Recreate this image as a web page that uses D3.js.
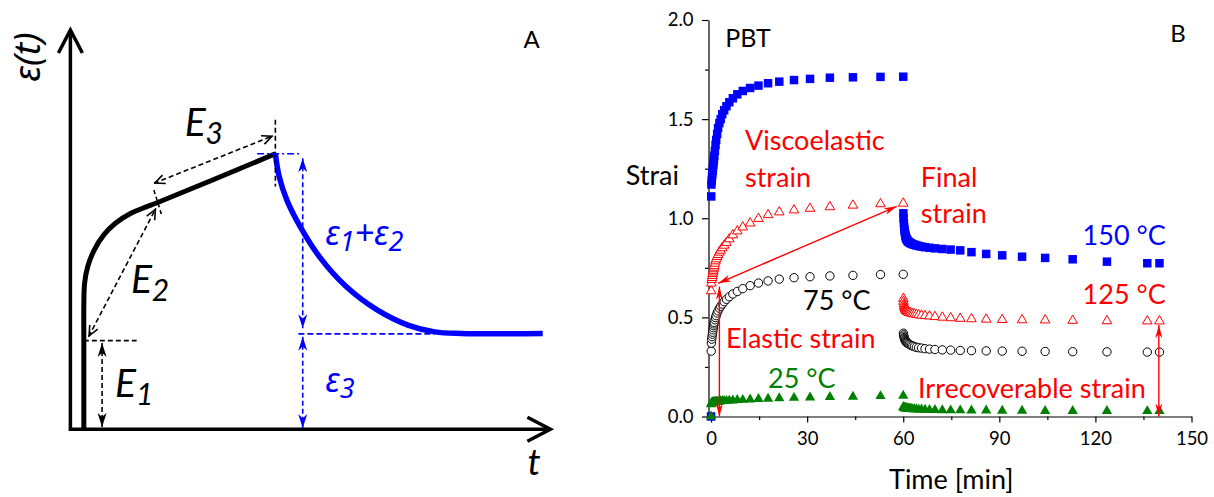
<!DOCTYPE html>
<html>
<head>
<meta charset="utf-8">
<script src="https://cdn.jsdelivr.net/npm/d3@7"></script>
<style>
    body { margin: 0; background: #fff; }
    svg { display: block; font-family: Lato, "Noto Sans", sans-serif; }
</style>
</head>
<body>
<svg id="chart" width="1214" height="497"></svg>
<script>

// ---- panel B : creep / recovery of PBT ----
var creepTime = [0, 0.05, 0.1, 0.2, 0.3, 0.4, 0.5, 0.6, 0.7, 0.8, 0.9, 1.0, 1.2, 1.4, 1.6, 1.9, 2.2, 2.6, 3.0, 3.5, 4.1, 4.8, 5.7, 6.8, 8.2, 9.9, 12.2, 14.8, 17.8, 21.3, 25.9, 30.9, 37.1, 44.3, 52.9, 60];
var recoveryTime = [60.05, 60.1, 60.2, 60.3, 60.4, 60.5, 60.6, 60.7, 60.8, 60.9, 61.0, 61.2, 61.4, 61.6, 61.9, 62.2, 62.6, 63.0, 63.5, 64.1, 64.8, 65.7, 66.8, 68.2, 69.9, 72.2, 74.8, 77.8, 81.3, 85.9, 90.9, 97.1, 104.3, 112.9, 123.6, 136.2, 140];

var creep150 = [0, 1.11, 1.17, 1.19, 1.21, 1.225, 1.24, 1.255, 1.27, 1.285, 1.30, 1.315, 1.34, 1.37, 1.395, 1.425, 1.455, 1.48, 1.50, 1.525, 1.545, 1.565, 1.585, 1.605, 1.625, 1.642, 1.657, 1.669, 1.681, 1.689, 1.697, 1.703, 1.709, 1.711, 1.713, 1.714];
var creep125 = [null, 0.633, 0.672, 0.69, 0.70, 0.71, 0.72, 0.728, 0.736, 0.744, 0.752, 0.76, 0.772, 0.784, 0.794, 0.806, 0.816, 0.828, 0.838, 0.85, 0.863, 0.877, 0.895, 0.915, 0.935, 0.955, 0.975, 0.998, 1.017, 1.031, 1.041, 1.049, 1.057, 1.065, 1.072, 1.075];
var creep75 = [null, 0.33, 0.37, 0.39, 0.403, 0.415, 0.425, 0.437, 0.448, 0.458, 0.467, 0.475, 0.488, 0.499, 0.509, 0.522, 0.533, 0.546, 0.556, 0.567, 0.579, 0.591, 0.604, 0.618, 0.631, 0.645, 0.66, 0.673, 0.684, 0.693, 0.70, 0.705, 0.709, 0.712, 0.716, 0.717];
var creep25 = [0, 0.062, 0.066, 0.068, 0.069, 0.07, 0.07, 0.071, 0.071, 0.072, 0.072, 0.072, 0.073, 0.073, 0.074, 0.075, 0.075, 0.076, 0.077, 0.078, 0.078, 0.079, 0.08, 0.081, 0.083, 0.084, 0.086, 0.088, 0.09, 0.092, 0.094, 0.096, 0.098, 0.1, 0.103, 0.105];

var recovery150 = [1.025, 1.0, 0.975, 0.955, 0.94, 0.93, 0.92, 0.912, 0.905, 0.9, 0.896, 0.89, 0.886, 0.882, 0.878, 0.875, 0.872, 0.869, 0.866, 0.863, 0.86, 0.857, 0.854, 0.851, 0.848, 0.845, 0.842, 0.838, 0.829, 0.82, 0.813, 0.806, 0.8, 0.793, 0.781, 0.773, 0.773];
var recovery125 = [0.595, 0.58, 0.567, 0.558, 0.552, 0.547, 0.543, 0.54, 0.537, 0.535, 0.533, 0.53, 0.528, 0.526, 0.524, 0.522, 0.52, 0.518, 0.516, 0.514, 0.512, 0.51, 0.508, 0.506, 0.503, 0.5, 0.497, 0.494, 0.492, 0.49, 0.488, 0.487, 0.486, 0.484, 0.482, 0.481, 0.481];
var recovery75 = [0.42, 0.412, 0.405, 0.398, 0.393, 0.389, 0.385, 0.382, 0.379, 0.377, 0.375, 0.372, 0.369, 0.367, 0.364, 0.361, 0.358, 0.355, 0.352, 0.349, 0.347, 0.345, 0.342, 0.34, 0.338, 0.336, 0.335, 0.333, 0.332, 0.331, 0.33, 0.329, 0.328, 0.327, 0.326, 0.325, 0.325];
var recovery25 = [0.048, 0.046, 0.045, 0.044, 0.043, 0.043, 0.042, 0.042, 0.041, 0.041, 0.041, 0.04, 0.04, 0.039, 0.039, 0.038, 0.038, 0.037, 0.037, 0.036, 0.035, 0.035, 0.034, 0.033, 0.033, 0.032, 0.031, 0.031, 0.03, 0.03, 0.029, 0.029, 0.028, 0.028, 0.028, 0.027, 0.027];

var xTicks = [0, 30, 60, 90, 120, 150];
var xMinorTicks = [15, 45, 75, 105, 135];
var yTicks = [0, 0.5, 1.0, 1.5, 2.0];
var yMinorTicks = [0.25, 0.75, 1.25, 1.75];

// ---- panel A : schematic, arbitrary units (0..100 on both axes) ----
var loadCurve = [[2.8, 0], [2.8, 22], [2.8, 31], [2.96, 36.6], [3.6, 40.7], [4.96, 44.9], [6.96, 48.7], [9.38, 51.6], [12.6, 54.1], [15.8, 55.7], [17.8, 56.6], [42.7, 69]];
var unloadCurve = [[42.7, 69], [43.5, 63.3], [45.1, 57.4], [47.9, 50.7], [51.9, 43.2], [57.5, 35.7], [63.9, 29.9], [70.3, 26.1], [75.9, 24.4], [81.5, 24.0], [98.4, 24.0]];


var svg = d3.select("#chart");

svg.append("rect")
    .attr("width", 1214)
    .attr("height", 497)
    .attr("fill", "#fff");

var defs = svg.append("defs");

function arrowMarker(id, color, len, wid, open) {
    var m = defs.append("marker")
        .attr("id", id)
        .attr("viewBox", "0 0 " + len + " " + wid)
        .attr("refX", len)
        .attr("refY", wid / 2)
        .attr("markerWidth", len)
        .attr("markerHeight", wid)
        .attr("markerUnits", "userSpaceOnUse")
        .attr("orient", "auto-start-reverse");
    if (open) {
        m.append("path")
            .attr("d", "M1," + 1 + " L" + (len - 1) + "," + (wid / 2) + " L1," + (wid - 1))
            .attr("fill", "none")
            .attr("stroke", color)
            .attr("stroke-width", 1.6);
    } else {
        m.append("path")
            .attr("d", "M0,0 L" + len + "," + (wid / 2) + " L0," + wid + " L" + (len * 0.3) + "," + (wid / 2) + " Z")
            .attr("fill", color);
    }
}

arrowMarker("arrRed", "#ff0000", 13, 7, false);
arrowMarker("arrBlack", "#000", 14, 9, false);
arrowMarker("arrBlue", "#0000ff", 14, 9, false);
arrowMarker("chevBlack", "#000", 12, 11, true);


// ================= PANEL A =================
var xA = d3.scaleLinear().domain([0, 100]).range([70.4, 550.4]);
var yA = d3.scaleLinear().domain([0, 100]).range([429.3, 30]);

var gA = svg.append("g");

// axes with open arrow heads
gA.append("line")
    .attr("x1", xA(0)).attr("y1", yA(0) + 1.5)
    .attr("x2", xA(0)).attr("y2", yA(100))
    .attr("stroke", "#000").attr("stroke-width", 3.5);
gA.append("path")
    .attr("d", "M" + (xA(0) - 12) + "," + (yA(100) + 23) + " L" + xA(0) + "," + yA(100) + " L" + (xA(0) + 12) + "," + (yA(100) + 23))
    .attr("fill", "none").attr("stroke", "#000").attr("stroke-width", 3.5);
gA.append("line")
    .attr("x1", xA(0) - 1.5).attr("y1", yA(0))
    .attr("x2", xA(100)).attr("y2", yA(0))
    .attr("stroke", "#000").attr("stroke-width", 3.5);
gA.append("path")
    .attr("d", "M" + (xA(100) - 23) + "," + (yA(0) - 12) + " L" + xA(100) + "," + yA(0) + " L" + (xA(100) - 23) + "," + (yA(0) + 12))
    .attr("fill", "none").attr("stroke", "#000").attr("stroke-width", 3.5);

var lineA = d3.line()
    .x(function(d) { return xA(d[0]); })
    .y(function(d) { return yA(d[1]); })
    .curve(d3.curveCatmullRom.alpha(0.5));

gA.append("path")
    .attr("d", lineA(loadCurve))
    .attr("fill", "none")
    .attr("stroke", "#000")
    .attr("stroke-width", 5);

gA.append("path")
    .attr("d", lineA(unloadCurve))
    .attr("fill", "none")
    .attr("stroke", "#0000ff")
    .attr("stroke-width", 5.5);

function dashed(g, p1, p2, color, dash, start, end) {
    var l = g.append("line")
        .attr("x1", xA(p1[0])).attr("y1", yA(p1[1]))
        .attr("x2", xA(p2[0])).attr("y2", yA(p2[1]))
        .attr("stroke", color)
        .attr("stroke-width", 1.6)
        .attr("stroke-dasharray", dash);
    if (start) l.attr("marker-start", "url(#" + start + ")");
    if (end) l.attr("marker-end", "url(#" + end + ")");
    return l;
}

// E1
dashed(gA, [2.8, 22.2], [13.8, 22.2], "#000", "5,3");
dashed(gA, [6.6, 21.6], [6.6, 0.6], "#000", "5,3", "arrBlack", "arrBlack");
// E2
dashed(gA, [3.8, 23.2], [17.8, 55.3], "#000", "5,3", "chevBlack", "chevBlack");
dashed(gA, [17.4, 59.9], [19.0, 53.7], "#000", "4,3");
// E3
dashed(gA, [17.4, 61.6], [42.2, 73.5], "#000", "5,3", "chevBlack", "chevBlack");
dashed(gA, [42.7, 77.5], [42.7, 60.8], "#000", "5,3");
// recovery
dashed(gA, [38.9, 69.0], [47.9, 69.0], "#0000ff", "7,3,2,3");
dashed(gA, [48.4, 67.9], [48.4, 25.3], "#0000ff", "5,3", "arrBlue", "arrBlue");
dashed(gA, [47.5, 23.9], [75.9, 23.9], "#0000ff", "6,3");
dashed(gA, [48.4, 23.2], [48.4, 0.3], "#0000ff", "5,3", "arrBlue", "arrBlue");

function subLabel(g, x, y, main, sub, color, size, subSize, family) {
    var t = g.append("text")
        .attr("x", x).attr("y", y)
        .attr("fill", color)
        .style("font-family", family)
        .style("font-style", "italic")
        .style("font-size", size + "px");
    t.append("tspan").text(main);
    t.append("tspan").attr("dy", 8).style("font-size", subSize + "px").text(sub);
    return t;
}

subLabel(gA, xA(9.3), yA(8.2), "E", "1", "#000", 39, 30, "Lato");
subLabel(gA, xA(12.6), yA(34.1), "E", "2", "#000", 39, 30, "Lato");
subLabel(gA, xA(23.8), yA(73.5), "E", "3", "#000", 39, 30, "Lato");

var eps = gA.append("text")
    .attr("x", xA(53.1)).attr("y", yA(46.2))
    .attr("fill", "#0000ff")
    .style("font-family", "'Noto Sans'")
    .style("font-style", "italic")
    .style("font-size", "34px");
eps.append("tspan").text("\u03b5");
eps.append("tspan").attr("dy", 6).style("font-size", "27px").text("1");
eps.append("tspan").attr("dy", -6).text("+\u03b5");
eps.append("tspan").attr("dy", 6).style("font-size", "27px").text("2");

var eps3 = gA.append("text")
    .attr("x", xA(53.1)).attr("y", yA(9.4))
    .attr("fill", "#0000ff")
    .style("font-family", "'Noto Sans'")
    .style("font-style", "italic")
    .style("font-size", "34px");
eps3.append("tspan").text("\u03b5");
eps3.append("tspan").attr("dy", 6).style("font-size", "27px").text("3");

gA.append("text")
    .attr("transform", "translate(40,57) rotate(-90)")
    .attr("text-anchor", "middle")
    .style("font-family", "'Noto Sans'")
    .style("font-style", "italic")
    .style("font-size", "37px")
    .text("\u03b5(t)");

gA.append("text")
    .attr("x", 534).attr("y", 475)
    .attr("text-anchor", "middle")
    .style("font-style", "italic")
    .style("font-size", "37px")
    .text("t");

gA.append("text")
    .attr("x", 531.5).attr("y", 47.5)
    .attr("text-anchor", "middle")
    .style("font-size", "24px")
    .text("A");


// ================= PANEL B =================
var x = d3.scaleLinear().domain([-0.8, 150]).range([708.5, 1191.5]);
var y = d3.scaleLinear().domain([0, 2]).range([416.5, 20]);

var gB = svg.append("g");

gB.append("g")
    .attr("transform", "translate(0," + y(0) + ")")
    .call(d3.axisBottom(x).tickValues(xTicks).tickSize(6).tickSizeOuter(0).tickPadding(9));
gB.append("g")
    .attr("transform", "translate(0," + y(0) + ")")
    .call(d3.axisBottom(x).tickValues(xMinorTicks).tickSize(3.5).tickSizeOuter(0).tickFormat(""))
    .select(".domain").remove();

gB.append("g")
    .attr("transform", "translate(" + x(-0.8) + ",0)")
    .call(d3.axisLeft(y).tickValues(yTicks).tickSize(6.5).tickSizeOuter(0).tickPadding(8.5).tickFormat(d3.format(".1f")));
gB.append("g")
    .attr("transform", "translate(" + x(-0.8) + ",0)")
    .call(d3.axisLeft(y).tickValues(yMinorTicks).tickSize(3.5).tickSizeOuter(0).tickFormat(""))
    .select(".domain").remove();

gB.selectAll(".tick text")
    .style("font-family", "Lato, 'Noto Sans', sans-serif")
    .style("font-size", "18.5px")
    .attr("fill", "#000");
gB.selectAll(".domain, .tick line")
    .attr("stroke", "#000")
    .attr("stroke-width", 1.2);

gB.append("text")
    .attr("x", x(75)).attr("y", 489)
    .attr("text-anchor", "middle")
    .style("font-size", "27px")
    .text("Time [min]");

gB.append("text")
    .attr("x", 679).attr("y", 185)
    .attr("text-anchor", "end")
    .style("font-size", "27px")
    .text("Strai");

function seriesPoints(times, values) {
    var pts = [];
    for (var i = 0; i < times.length; i++) {
        if (values[i] != null) pts.push([times[i], values[i]]);
    }
    return pts;
}

var series = [
    {creep: creep150, rec: recovery150, shape: d3.symbolSquare, size: 72, fill: "#0000ff", stroke: "none"},
    {creep: creep75, rec: recovery75, shape: d3.symbolCircle, size: 55, fill: "#fff", stroke: "#000"},
    {creep: creep125, rec: recovery125, shape: d3.symbolTriangle, size: 40, fill: "#fff", stroke: "#ff0000"},
    {creep: creep25, rec: recovery25, shape: d3.symbolTriangle, size: 46, fill: "#008000", stroke: "none"}
];

series.forEach(function(s) {
    var pts = seriesPoints(creepTime, s.creep).concat(seriesPoints(recoveryTime, s.rec));
    var sym = d3.symbol().type(s.shape).size(s.size);
    gB.append("g").selectAll("path")
        .data(pts)
        .enter().append("path")
        .attr("d", sym)
        .attr("transform", function(d) { return "translate(" + x(d[0]) + "," + y(d[1]) + ")"; })
        .attr("fill", s.fill)
        .attr("stroke", s.stroke)
        .attr("stroke-width", 1);
});

// red arrows
function redArrow(p1, p2) {
    gB.append("line")
        .attr("x1", x(p1[0])).attr("y1", y(p1[1]))
        .attr("x2", x(p2[0])).attr("y2", y(p2[1]))
        .attr("stroke", "#ff0000")
        .attr("stroke-width", 1.4)
        .attr("marker-start", "url(#arrRed)")
        .attr("marker-end", "url(#arrRed)");
}
redArrow([58.0, 1.06], [2.2, 0.672]);
redArrow([2.6, 0.655], [2.6, 0.0]);
redArrow([139.8, 0.461], [139.8, 0.0]);

var notes = [
    {t: 4.4, v: 1.865, text: "PBT", color: "#000", size: 25},
    {t: 10.6, v: 1.344, text: "Viscoelastic", color: "#ff0000", size: 27},
    {t: 10.6, v: 1.159, text: "strain", color: "#ff0000", size: 27},
    {t: 65.5, v: 1.159, text: "Final", color: "#ff0000", size: 27},
    {t: 65.5, v: 0.975, text: "strain", color: "#ff0000", size: 27},
    {t: 116, v: 0.865, text: "150 \u00b0C", color: "#0000ff", size: 27},
    {t: 116, v: 0.567, text: "125 \u00b0C", color: "#ff0000", size: 27},
    {t: 28.7, v: 0.537, text: "75 \u00b0C", color: "#000", size: 27},
    {t: 4.7, v: 0.346, text: "Elastic strain", color: "#ff0000", size: 27},
    {t: 17.8, v: 0.144, text: "25 \u00b0C", color: "#008000", size: 27},
    {t: 64.6, v: 0.093, text: "Irrecoverable strain", color: "#ff0000", size: 27}
];

gB.selectAll("text.note")
    .data(notes)
    .enter().append("text")
    .attr("class", "note")
    .attr("x", function(d) { return x(d.t); })
    .attr("y", function(d) { return y(d.v); })
    .attr("fill", function(d) { return d.color; })
    .style("font-size", function(d) { return d.size + "px"; })
    .text(function(d) { return d.text; });

gB.append("text")
    .attr("x", 1178).attr("y", 41.5)
    .attr("text-anchor", "middle")
    .style("font-size", "24px")
    .text("B");

</script>
</body>
</html>
